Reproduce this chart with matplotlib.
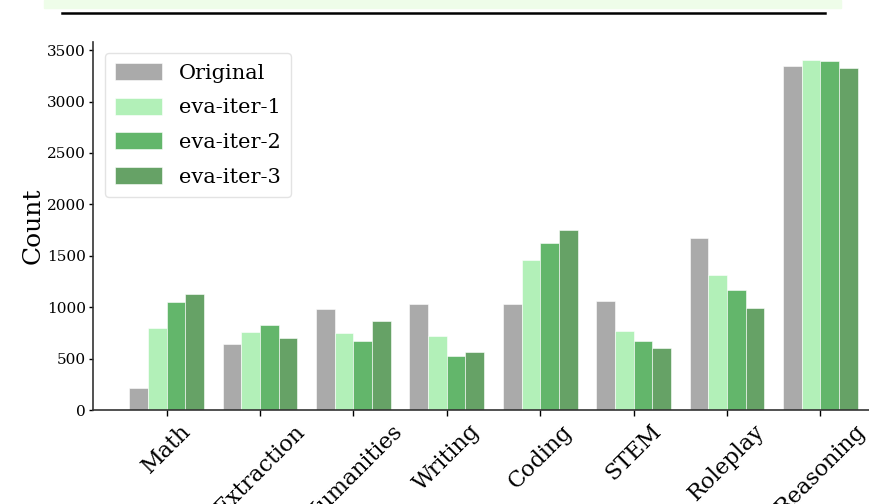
import matplotlib
matplotlib.use("Agg")
import matplotlib.pyplot as plt
import numpy as np
from matplotlib.patches import Rectangle
from matplotlib.lines import Line2D

categories = ["Math", "Extraction", "Humanities", "Writing", "Coding", "STEM", "Roleplay", "Reasoning"]
series_names = ["Original", "eva-iter-1", "eva-iter-2", "eva-iter-3"]
original = [217, 641, 982, 1027, 1027, 1059, 1672, 3347]
eva_iter_1 = [797, 761, 746, 719, 1455, 765, 1309, 3409]
eva_iter_2 = [1047, 826, 668, 525, 1626, 668, 1166, 3390]
eva_iter_3 = [1128, 697, 868, 567, 1747, 606, 988, 3324]
colors = ["#aaaaaa", "#b2f0b8", "#63b66b", "#66a266"]

plt.rcParams['font.family'] = ['DejaVu Serif']

fig = plt.figure(figsize=(8.69, 5.04), dpi=100)
ax = fig.add_axes([93/869, 1-410/504, (894-93)/869, (410-42)/504])

x = np.arange(len(categories))
w = 0.2
all_series = [original, eva_iter_1, eva_iter_2, eva_iter_3]
for i, (name, vals) in enumerate(zip(series_names, all_series)):
    ax.bar(x + (i - 1.5) * w, vals, width=w, color=colors[i], label=name,
           edgecolor="white", linewidth=0.4)

ax.set_xticks(x)
ax.set_xticklabels(categories, rotation=45, ha="center", fontsize=16)
ax.set_ylabel("Count", fontsize=18, labelpad=2)
ax.tick_params(axis="y", labelsize=11, length=3, width=1, pad=2)
ax.tick_params(axis="x", length=4, width=1)
for s in ["top", "right"]:
    ax.spines[s].set_visible(False)
for s in ["left", "bottom"]:
    ax.spines[s].set_linewidth(1.2)
    ax.spines[s].set_color("#333333")

leg = ax.legend(loc="upper left", bbox_to_anchor=(0.015, 0.97), borderaxespad=0,
                fontsize=15, frameon=True, fancybox=True, edgecolor="#dddddd",
                handlelength=2.25, handleheight=0.85, labelspacing=0.72,
                borderpad=0.5, handletextpad=0.8)

# page decoration from the screenshot
fig.patches.append(Rectangle((44/869, 1-8/504), (841-44)/869, 8/504,
                             transform=fig.transFigure, color="#eefde9", zorder=0))
fig.lines.append(Line2D([62/869, 825/869], [1-12.5/504, 1-12.5/504],
                        transform=fig.transFigure, color="black", linewidth=1.8))

fig.savefig("out.png", dpi=100)
